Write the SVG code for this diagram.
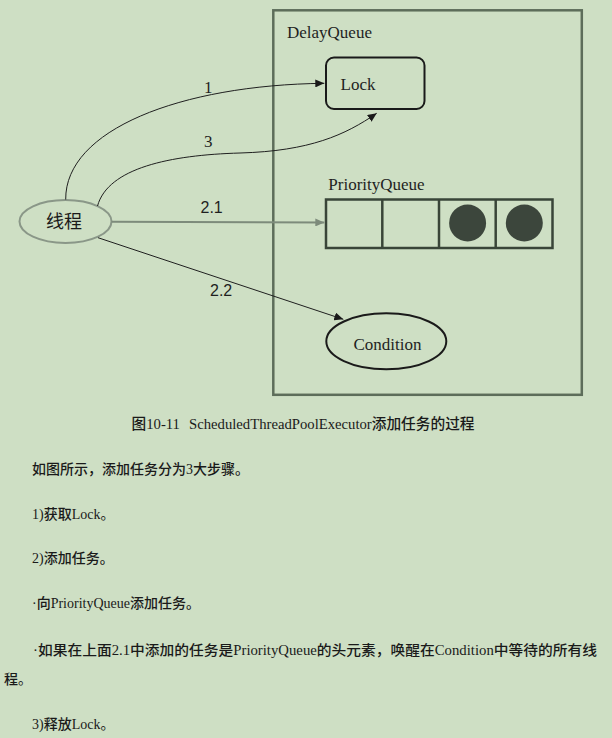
<svg xmlns="http://www.w3.org/2000/svg" width="612" height="738" viewBox="0 0 612 738">
<style>
.lat{font-family:"Liberation Serif","Noto Sans CJK SC",serif;fill:#1f1f1f}
.sans{font-family:"Liberation Sans","Noto Sans CJK SC",sans-serif;fill:#1f1f1f}
.cjk{font-family:"Liberation Serif","Noto Sans CJK SC",serif;fill:#1a1a1a}
.body{font-size:14px}
.b{font-weight:500}
.edge{fill:none;stroke:#1f1f1f;stroke-width:1}
</style>
<defs>
<marker id="ah" markerUnits="userSpaceOnUse" markerWidth="10" markerHeight="8" refX="9" refY="4" orient="auto">
<path d="M0,0 L9,4 L0,8 Z" fill="#1a1a1a"/>
</marker>
<marker id="ahg" markerUnits="userSpaceOnUse" markerWidth="10" markerHeight="8" refX="9" refY="4" orient="auto">
<path d="M0,0 L9,4 L0,8 Z" fill="#7d8b7b"/>
</marker>
</defs>
<rect x="0" y="0" width="612" height="738" fill="#cedfc4"/>

<g id="delayqueue">
<rect x="273.3" y="10.3" width="308.5" height="384.5" fill="none" stroke="#5d6d5a" stroke-width="2.5"/>
<text class="lat" x="287" y="38" font-size="17">DelayQueue</text>
</g>

<g id="lock">
<rect x="326" y="57.5" width="98.5" height="51.5" rx="8" fill="none" stroke="#1a1a1a" stroke-width="2"/>
<text class="lat" x="340.5" y="90" font-size="17">Lock</text>
</g>

<g id="priorityqueue">
<text class="lat" x="328.3" y="190" font-size="17">PriorityQueue</text>
<rect x="326" y="199.5" width="226.5" height="48.5" fill="none" stroke="#394538" stroke-width="2.5"/>
<line x1="382.3" y1="199.5" x2="382.3" y2="248" stroke="#394538" stroke-width="2.5"/>
<line x1="439" y1="199.5" x2="439" y2="248" stroke="#394538" stroke-width="2.5"/>
<line x1="495.7" y1="199.5" x2="495.7" y2="248" stroke="#394538" stroke-width="2.5"/>
<ellipse cx="467.6" cy="223" rx="18.5" ry="18.5" fill="#3c463c"/>
<ellipse cx="524.3" cy="223" rx="18.5" ry="18.5" fill="#3c463c"/>
</g>

<g id="condition">
<ellipse cx="386.3" cy="341.3" rx="60" ry="28" fill="none" stroke="#1a1a1a" stroke-width="2"/>
<text class="lat" x="387.5" y="350" font-size="17" text-anchor="middle">Condition</text>
</g>

<g id="thread">
<ellipse cx="65.5" cy="221.5" rx="46" ry="21.5" fill="none" stroke="#8a9788" stroke-width="2"/>
<text class="cjk" x="64" y="228" font-size="18" text-anchor="middle">线程</text>
</g>

<g id="connectors">
<path class="edge" d="M65.7,199.5 C65,130 180,85 324.3,83.3" marker-end="url(#ah)"/>
<path class="edge" d="M97.5,206 C108,168 170,155 240,153 S345,135 376.7,113.3" marker-end="url(#ah)"/>
<path d="M111.5,221.7 L324.3,222.5" fill="none" stroke="#7d8b7b" stroke-width="2" marker-end="url(#ahg)"/>
<path class="edge" d="M98,237.7 L343.3,319.3" marker-end="url(#ah)"/>
<text class="lat" x="204" y="93" font-size="17">1</text>
<text class="lat" x="204" y="147" font-size="17">3</text>
<text class="sans" x="200.5" y="213" font-size="16">2.1</text>
<text class="sans" x="210" y="296" font-size="16">2.2</text>
</g>

<g id="caption">
<text class="cjk" x="131.5" y="429" font-size="14.7"><tspan class="b">图</tspan>10-11</text>
<text class="cjk" x="189" y="429" font-size="14.7">ScheduledThreadPoolExecutor<tspan class="b">添加任务的过程</tspan></text>
</g>

<g id="bodytext" class="cjk body">
<text x="32" y="474"><tspan class="b">如图所示，添加任务分为</tspan>3<tspan class="b">大步骤。</tspan></text>
<text x="32" y="519">1)<tspan class="b">获取</tspan>Lock。</text>
<text x="32" y="563">2)<tspan class="b">添加任务。</tspan></text>
<text x="32" y="608">·<tspan class="b">向</tspan>PriorityQueue<tspan class="b">添加任务。</tspan></text>
<text x="33" y="655" textLength="564" lengthAdjust="spacingAndGlyphs">·<tspan class="b">如果在上面</tspan>2.1<tspan class="b">中添加的任务是</tspan>PriorityQueue<tspan class="b">的头元素，唤醒在</tspan>Condition<tspan class="b">中等待的所有线</tspan></text>
<text x="4" y="684"><tspan class="b">程</tspan>。</text>
<text x="32" y="729">3)<tspan class="b">释放</tspan>Lock。</text>
</g>
</svg>
